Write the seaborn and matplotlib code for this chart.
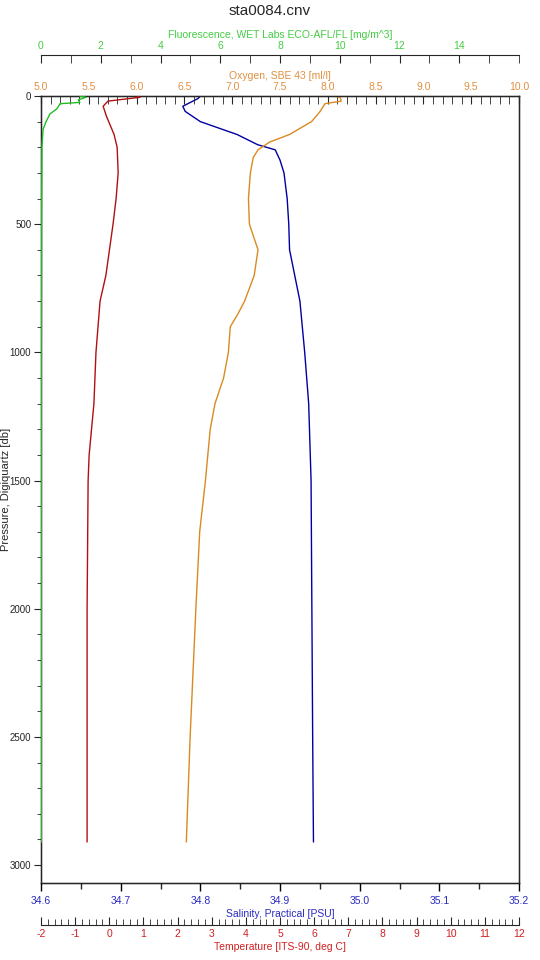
import matplotlib
matplotlib.use("Agg")
import matplotlib.pyplot as plt
import seaborn as sns
import numpy as np
from matplotlib.ticker import MultipleLocator

sns.set_style("white")
plt.rcParams['font.family'] = ['Liberation Sans', 'DejaVu Sans']
plt.rcParams['axes.unicode_minus'] = False

sal_p = [0, 10, 40, 60, 100, 150, 190, 210, 250, 300, 400, 500, 600, 800, 1000, 1200, 1500, 2000, 2500, 2910]
sal_v = [34.80, 34.797, 34.778, 34.781, 34.80, 34.846, 34.872, 34.894, 34.90, 34.905, 34.909, 34.911, 34.912, 34.925, 34.931, 34.936, 34.939, 34.940, 34.941, 34.942]
tmp_p = [0, 5, 20, 40, 80, 150, 200, 300, 400, 500, 700, 800, 1000, 1200, 1400, 1500, 2000, 2910]
tmp_v = [0.81, 0.90, -0.04, -0.18, -0.08, 0.14, 0.23, 0.26, 0.20, 0.11, -0.10, -0.27, -0.39, -0.45, -0.59, -0.62, -0.65, -0.65]
oxy_p = [0, 5, 20, 30, 60, 100, 150, 180, 210, 240, 300, 400, 500, 600, 700, 800, 850, 900, 1000, 1100, 1200, 1300, 1500, 1700, 2000, 2500, 2910]
oxy_v = [8.06, 8.13, 8.14, 7.97, 7.92, 7.83, 7.60, 7.39, 7.27, 7.22, 7.19, 7.17, 7.18, 7.27, 7.23, 7.13, 7.06, 6.98, 6.96, 6.91, 6.82, 6.77, 6.72, 6.66, 6.62, 6.56, 6.52]
flu_p = [0, 5, 15, 25, 30, 50, 70, 100, 130, 200, 500, 1000, 2000, 2910]
flu_v = [1.30, 1.50, 1.25, 1.30, 0.64, 0.53, 0.30, 0.17, 0.07, 0.03, 0.02, 0.01, 0.01, 0.01]

c_sal, c_tmp, c_oxy, c_flu = '#0000a0', '#b01010', '#d98a20', '#22bb22'
t_sal, t_tmp, t_oxy, t_flu = '#2a2ac0', '#d02020', '#e09040', '#44cc44'
fs = 7.5
fmt = matplotlib.ticker.FormatStrFormatter

fig = plt.figure(figsize=(5.4, 9.6), dpi=100)
ax = fig.add_axes([41/540, 1-883/960, 478/540, (883-96)/960])
ax.set_ylim(3070, 0)

sns.lineplot(x=sal_v, y=sal_p, sort=False, orient='y', ax=ax, color=c_sal, lw=1)
ax.set_xlim(34.6, 35.2)
ax.xaxis.set_major_locator(MultipleLocator(0.1))
ax.xaxis.set_minor_locator(MultipleLocator(0.05))
ax.xaxis.set_major_formatter(fmt('%.1f'))
ax.tick_params(axis='x', colors='black', labelcolor=t_sal, labelsize=fs, direction='out', length=6, width=1)
ax.tick_params(axis='x', which='minor', length=4, direction='out', width=1)
ax.set_xlabel("Salinity, Practical [PSU]", color=t_sal, fontsize=fs, labelpad=2)
ax.yaxis.set_major_locator(MultipleLocator(500))
ax.yaxis.set_minor_locator(MultipleLocator(100))
ax.tick_params(axis='y', labelsize=7, direction='out', length=5, left=True, pad=2)
ax.tick_params(axis='y', which='minor', length=3, direction='out', left=True)
ax.set_ylabel("Pressure, Digiquartz [db]", fontsize=8)
ax.yaxis.set_label_coords(-0.062, 0.5)
for s in ax.spines.values():
    s.set_color('black'); s.set_linewidth(1)

ax2 = ax.twiny()
sns.lineplot(x=oxy_v, y=oxy_p, sort=False, orient='y', ax=ax2, color=c_oxy, lw=1)
ax2.set_xlim(5, 10)
ax2.xaxis.set_major_locator(MultipleLocator(0.5))
ax2.xaxis.set_minor_locator(MultipleLocator(0.1))
ax2.xaxis.set_major_formatter(fmt('%.1f'))
ax2.tick_params(axis='x', labelcolor=t_oxy, labelsize=fs, direction='in', length=6, pad=3, top=True, bottom=False)
ax2.tick_params(axis='x', which='minor', direction='in', length=6, top=True, bottom=False)
ax2.set_xlabel("Oxygen, SBE 43 [ml/l]", color=t_oxy, fontsize=fs, labelpad=2)
ax2.set_ylim(3070, 0)

ax3 = ax.twiny()
sns.lineplot(x=flu_v, y=flu_p, sort=False, orient='y', ax=ax3, color=c_flu, lw=1)
ax3.set_xlim(0, 16)
ax3.set_ylim(3070, 0)
for k in ['left', 'right', 'bottom']:
    ax3.spines[k].set_visible(False)
ax3.spines['top'].set_position(('outward', 29.5))
ax3.xaxis.set_minor_locator(MultipleLocator(1))
ax3.set_xticks([0, 2, 4, 6, 8, 10, 12, 14])
ax3.tick_params(axis='x', labelcolor=t_flu, labelsize=fs, direction='in', length=6, pad=3, top=True, bottom=False)
ax3.tick_params(axis='x', which='minor', direction='in', length=6, top=True, bottom=False)
ax3.set_xlabel("Fluorescence, WET Labs ECO-AFL/FL [mg/m^3]", color=t_flu, fontsize=fs, labelpad=2)

ax4 = ax.twiny()
sns.lineplot(x=tmp_v, y=tmp_p, sort=False, orient='y', ax=ax4, color=c_tmp, lw=1)
ax4.set_xlim(-2, 12)
ax4.set_ylim(3070, 0)
for k in ['left', 'right', 'top']:
    ax4.spines[k].set_visible(False)
ax4.spines['bottom'].set_visible(True)
ax4.xaxis.set_ticks_position('bottom')
ax4.xaxis.set_label_position('bottom')
ax4.spines['bottom'].set_position(('outward', 30))
ax4.xaxis.set_major_locator(MultipleLocator(1))
ax4.xaxis.set_minor_locator(MultipleLocator(0.2))
ax4.tick_params(axis='x', labelcolor=t_tmp, labelsize=fs, direction='in', length=6, pad=3, top=False, bottom=True)
ax4.tick_params(axis='x', which='minor', direction='in', length=4, top=False, bottom=True)
ax4.set_xlabel("Temperature [ITS-90, deg C]", color=t_tmp, fontsize=fs, labelpad=2)

for a in (ax2, ax3, ax4):
    a.set_ylabel("")
    a.tick_params(axis='y', left=False, right=False, labelleft=False, labelright=False)

fig.suptitle("sta0084.cnv", y=0.996, fontsize=11)
fig.savefig("out.png", dpi=100)
